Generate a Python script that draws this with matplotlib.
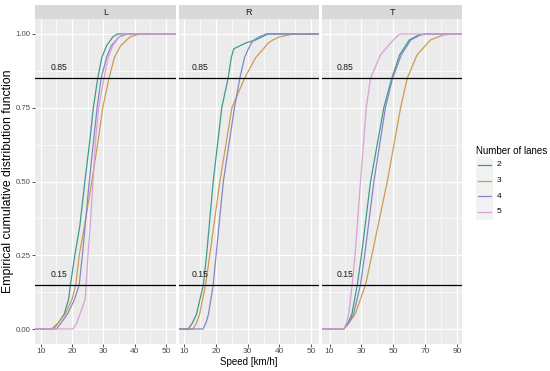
import matplotlib
matplotlib.use('Agg')
import matplotlib.pyplot as plt
from matplotlib.patches import Rectangle
from matplotlib.lines import Line2D

plt.rcParams['font.family'] = ['Liberation Sans', 'DejaVu Sans']

# ---------------- data (speed [km/h] at given ECDF levels) ----------------
lanes = ['2', '3', '4', '5']
colors = {'2': '#3f9b8c', '3': '#cf9a52', '4': '#8785c6', '5': '#d9a2d2'}

L_F = [0, 0.02, 0.05, 0.10, 0.15, 0.25, 0.35, 0.50, 0.65, 0.75, 0.85, 0.92, 0.96, 0.99, 1.0]
L_2 = [14.0, 15.6, 17.5, 18.9, 19.5, 20.9, 22.5, 24.1, 25.8, 26.8, 28.2, 29.5, 31.0, 33.0, 34.5]
L_3 = [13.5, 15.5, 17.8, 20.0, 21.2, 22.3, 24.0, 26.3, 28.5, 29.8, 31.8, 33.5, 35.5, 38.5, 41.5]
L_4 = [15.0, 16.5, 18.5, 20.8, 22.3, 23.3, 24.2, 25.5, 27.0, 28.0, 29.3, 31.0, 32.5, 35.0, 37.5]
L_5 = [20.3, 21.5, 22.5, 24.2, 24.5, 25.1, 25.8, 26.7, 27.6, 28.5, 30.2, 31.5, 33.0, 35.0, 36.5]

R_F = [0, 0.02, 0.05, 0.15, 0.25, 0.50, 0.75, 0.85, 0.92, 0.95, 0.97, 0.98, 0.99, 1.0]
R_2 = [11.2, 12.5, 13.8, 16.0, 17.0, 19.1, 21.8, 23.8, 24.8, 25.6, 29.5, 32.5, 34.5, 36.3]
R_3 = [12.7, 13.8, 14.8, 16.7, 18.0, 21.2, 25.0, 29.0, 32.5, 35.0, 36.5, 38.0, 40.0, 44.3]
R_4 = [15.9, 16.8, 17.6, 19.1, 20.0, 22.3, 25.8, 27.5, 29.0, 30.2, 31.2, 32.0, 33.5, 35.9]

T_F = [0, 0.02, 0.05, 0.15, 0.25, 0.50, 0.75, 0.85, 0.93, 0.98, 0.997, 1.0]
T_2 = [19.0, 21.5, 24.0, 27.4, 30.0, 35.7, 44.0, 49.0, 54.0, 60.0, 66.0, 70.0]
T_3 = [19.0, 22.0, 26.0, 32.6, 36.5, 46.2, 54.5, 58.7, 64.9, 73.3, 81.4, 87.7]
T_4 = [19.0, 22.0, 25.0, 29.4, 32.0, 37.8, 45.0, 49.5, 55.0, 61.0, 67.0, 71.0]
T_5 = [19.0, 20.5, 22.0, 24.2, 26.0, 29.4, 33.0, 35.7, 42.0, 50.0, 53.4, 54.5]

panels = ['L', 'R', 'T']
panel_F = {'L': L_F, 'R': R_F, 'T': T_F}
panel_series = {
    'L': {'2': L_2, '3': L_3, '4': L_4, '5': L_5},
    'R': {'2': R_2, '3': R_3, '4': R_4},
    'T': {'2': T_2, '3': T_3, '4': T_4, '5': T_5},
}
panel_xticks = {'L': [10, 20, 30, 40, 50], 'R': [10, 20, 30, 40, 50], 'T': [10, 30, 50, 70, 90]}
panel_xminor = {'L': [15, 25, 35, 45], 'R': [15, 25, 35, 45], 'T': [20, 40, 60, 80]}
panel_xlim = {'L': (8.2, 53.0), 'R': (8.3, 52.5), 'T': (5.6, 93.3)}
label_x = {'L': 16.0, 'R': 15.0, 'T': 19.5}
hlines = [0.15, 0.85]
yticks = [0.00, 0.25, 0.50, 0.75, 1.00]
yminor = [0.125, 0.375, 0.625, 0.875]

# ---------------- layout ----------------
W, H = 550, 371
fig = plt.figure(figsize=(W / 100, H / 100), dpi=100)
fig.patch.set_facecolor('white')

def px_axes(x0, y0, x1, y1):
    return fig.add_axes([x0 / W, 1 - y1 / H, (x1 - x0) / W, (y1 - y0) / H])

panel_px = {'L': (35, 175.5), 'R': (179, 319), 'T': (322.5, 462.5)}
ptop, pbot, stop = 19.25, 343.75, 5.0

tick_color = '#4D4D4D'
for i, p in enumerate(panels):
    x0, x1 = panel_px[p]
    ax = px_axes(x0, ptop, x1, pbot)
    ax.set_facecolor('#EBEBEB')
    for s in ax.spines.values():
        s.set_visible(False)
    xl = panel_xlim[p]
    ax.set_xlim(*xl)
    ax.set_ylim(-0.05, 1.05)
    ax.set_xticks(panel_xticks[p])
    ax.set_xticks(panel_xminor[p], minor=True)
    ax.set_yticks(yticks)
    ax.set_yticks(yminor, minor=True)
    ax.grid(which='major', color='white', lw=0.9)
    ax.grid(which='minor', color='white', lw=0.45)
    ax.set_axisbelow(True)
    ax.tick_params(which='minor', length=0)
    ax.tick_params(which='major', length=2.2, width=0.6, color='#333333',
                   labelsize=6, labelcolor=tick_color, pad=1.2)
    if i == 0:
        ax.set_yticklabels(['0.00', '0.25', '0.50', '0.75', '1.00'])
        ax.tick_params(axis='y', labelsize=5.6)
    else:
        ax.tick_params(axis='y', length=0, labelleft=False)
    F = panel_F[p]
    for ln, xs in panel_series[p].items():
        xx = [xl[0]] + list(xs) + [xl[1]]
        yy = [0] + list(F) + [1]
        ax.plot(xx, yy, color=colors[ln], lw=0.9, zorder=3)
    for h in hlines:
        ax.axhline(h, color='black', lw=0.9, zorder=4)
        ax.text(label_x[p], h + 0.035, f'{h:.2f}', fontsize=6.2, color='#1A1A1A',
                ha='center', va='center', zorder=5)
    # strip
    sax = px_axes(x0, stop, x1, ptop)
    sax.set_facecolor('#D9D9D9')
    sax.set_xticks([]); sax.set_yticks([])
    for s in sax.spines.values():
        s.set_visible(False)
    sax.text(0.5, 0.5, p, ha='center', va='center', fontsize=6.5, color='#1A1A1A',
             transform=sax.transAxes)

fig.text(248.5 / W, 1 - 362 / H, 'Speed [km/h]', ha='center', va='center',
         fontsize=7, color='black')
fig.text(8.5 / W, 1 - 181.5 / H, 'Empirical cumulative distribution function',
         ha='center', va='center', rotation=90, fontsize=8.8, color='black')

# legend
lax = fig.add_axes([0, 0, 1, 1])
lax.set_xlim(0, W); lax.set_ylim(H, 0)
lax.axis('off')
lax.text(476, 150.5, 'Number of lanes', fontsize=7, va='center', ha='left', color='black')
key_y0 = 157.2
key_h = 15.6
for j, ln in enumerate(lanes):
    yc = key_y0 + key_h * j + key_h / 2
    lax.add_patch(Rectangle((476, key_y0 + key_h * j), 17, key_h, facecolor='#F2F2F2',
                            edgecolor='none'))
    lax.add_line(Line2D([478, 491], [yc, yc], color=colors[ln], lw=0.9))
    lax.text(497, yc, ln, fontsize=6, va='center', ha='left', color='black')

fig.savefig('out.png', dpi=100)
